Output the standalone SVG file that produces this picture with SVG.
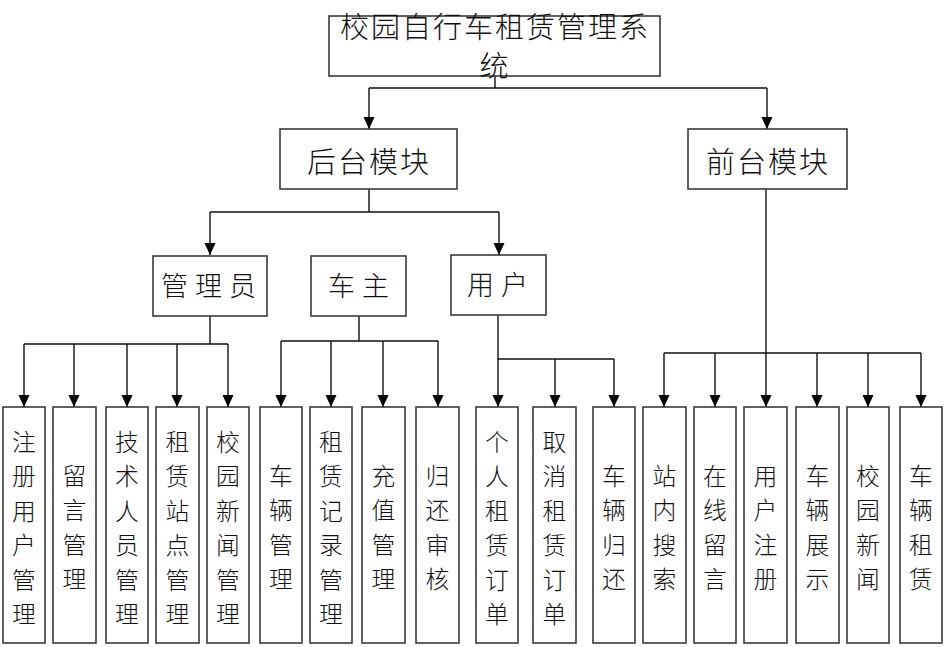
<svg xmlns="http://www.w3.org/2000/svg" width="946" height="647" viewBox="0 0 946 647">
<defs>
<style>
.box{fill:#fff;stroke:#3a3a3a;stroke-width:1.6}
.ln{fill:none;stroke:#111;stroke-width:1.4}
.t{font-family:"Noto Sans CJK SC","Noto Sans",sans-serif;font-size:27px;fill:#111;text-anchor:middle;dominant-baseline:central;font-weight:300}
.v{font-size:23.8px}
.h{font-size:29px;letter-spacing:2px}
.m{letter-spacing:7px}
</style>
<marker id="ar" markerUnits="userSpaceOnUse" markerWidth="12" markerHeight="13" refX="13" refY="6" orient="auto" viewBox="0 0 13 12">
<path d="M0,0 L13,6 L0,12 Z" fill="#000"/>
</marker>
</defs>
<rect width="946" height="647" fill="#fff"/>
<g id="connectors">
<path class="ln" d="M495,76 V88 M369,88 H767"/>
<path class="ln" d="M369,88 V129" marker-end="url(#ar)"/>
<path class="ln" d="M767,88 V129" marker-end="url(#ar)"/>
<path class="ln" d="M369,189 V212 M210,212 H499"/>
<path class="ln" d="M210,212 V255" marker-end="url(#ar)"/>
<path class="ln" d="M499,212 V255" marker-end="url(#ar)"/>
<path class="ln" d="M210,316 V344 M24,344 H228"/>
<path class="ln" d="M24,344 V407" marker-end="url(#ar)"/>
<path class="ln" d="M74,344 V407" marker-end="url(#ar)"/>
<path class="ln" d="M127,344 V407" marker-end="url(#ar)"/>
<path class="ln" d="M177,344 V407" marker-end="url(#ar)"/>
<path class="ln" d="M228,344 V407" marker-end="url(#ar)"/>
<path class="ln" d="M359,316 V341 M281,341 H438"/>
<path class="ln" d="M281,341 V407" marker-end="url(#ar)"/>
<path class="ln" d="M331,341 V407" marker-end="url(#ar)"/>
<path class="ln" d="M383,341 V407" marker-end="url(#ar)"/>
<path class="ln" d="M438,341 V407" marker-end="url(#ar)"/>
<path class="ln" d="M498,315 V359 H614"/>
<path class="ln" d="M498,359 V407" marker-end="url(#ar)"/>
<path class="ln" d="M555,359 V407" marker-end="url(#ar)"/>
<path class="ln" d="M614,359 V407" marker-end="url(#ar)"/>
<path class="ln" d="M766,189 V353 M664,353 H921"/>
<path class="ln" d="M664,353 V407" marker-end="url(#ar)"/>
<path class="ln" d="M715,353 V407" marker-end="url(#ar)"/>
<path class="ln" d="M766,353 V407" marker-end="url(#ar)"/>
<path class="ln" d="M817,353 V407" marker-end="url(#ar)"/>
<path class="ln" d="M868,353 V407" marker-end="url(#ar)"/>
<path class="ln" d="M921,353 V407" marker-end="url(#ar)"/>
</g>
<g id="root"><rect class="box" x="329" y="16" width="331" height="60"/>
<text class="t h" x="495" y="25">校园自行车租赁管理系</text><text class="t h" x="495" y="64">统</text></g>
<g id="backend"><rect class="box" x="280" y="129" width="177" height="60"/><text class="t h" x="369" y="160">后台模块</text></g>
<g id="frontend"><rect class="box" x="688" y="129" width="159" height="60"/><text class="t h" x="768" y="160">前台模块</text></g>
<g id="admin"><rect class="box" x="153" y="256" width="114" height="60"/><text class="t m" x="212" y="284">管理员</text></g>
<g id="owner"><rect class="box" x="311" y="256" width="95" height="60"/><text class="t m" x="362" y="284">车主</text></g>
<g id="user"><rect class="box" x="451" y="255" width="95" height="60"/><text class="t m" x="501" y="283">用户</text></g>
<g id="n1"><rect class="box" x="3" y="407" width="42" height="236"/><text class="t v" x="24" y="440">注</text><text class="t v" x="24" y="474.5">册</text><text class="t v" x="24" y="509">用</text><text class="t v" x="24" y="543.5">户</text><text class="t v" x="24" y="578">管</text><text class="t v" x="24" y="612.5">理</text></g>
<g id="n2"><rect class="box" x="53" y="407" width="43" height="236"/><text class="t v" x="74.5" y="474">留</text><text class="t v" x="74.5" y="508.5">言</text><text class="t v" x="74.5" y="543">管</text><text class="t v" x="74.5" y="577.5">理</text></g>
<g id="n3"><rect class="box" x="106" y="407" width="42" height="236"/><text class="t v" x="127" y="440">技</text><text class="t v" x="127" y="474.5">术</text><text class="t v" x="127" y="509">人</text><text class="t v" x="127" y="543.5">员</text><text class="t v" x="127" y="578">管</text><text class="t v" x="127" y="612.5">理</text></g>
<g id="n4"><rect class="box" x="156" y="407" width="43" height="236"/><text class="t v" x="177.5" y="440">租</text><text class="t v" x="177.5" y="474.5">赁</text><text class="t v" x="177.5" y="509">站</text><text class="t v" x="177.5" y="543.5">点</text><text class="t v" x="177.5" y="578">管</text><text class="t v" x="177.5" y="612.5">理</text></g>
<g id="n5"><rect class="box" x="207" y="407" width="42" height="236"/><text class="t v" x="228" y="440">校</text><text class="t v" x="228" y="474.5">园</text><text class="t v" x="228" y="509">新</text><text class="t v" x="228" y="543.5">闻</text><text class="t v" x="228" y="578">管</text><text class="t v" x="228" y="612.5">理</text></g>
<g id="n6"><rect class="box" x="260" y="407" width="42" height="236"/><text class="t v" x="281" y="474">车</text><text class="t v" x="281" y="508.5">辆</text><text class="t v" x="281" y="543">管</text><text class="t v" x="281" y="577.5">理</text></g>
<g id="n7"><rect class="box" x="310" y="407" width="42" height="236"/><text class="t v" x="331" y="440">租</text><text class="t v" x="331" y="474.5">赁</text><text class="t v" x="331" y="509">记</text><text class="t v" x="331" y="543.5">录</text><text class="t v" x="331" y="578">管</text><text class="t v" x="331" y="612.5">理</text></g>
<g id="n8"><rect class="box" x="362" y="407" width="43" height="236"/><text class="t v" x="383.5" y="474">充</text><text class="t v" x="383.5" y="508.5">值</text><text class="t v" x="383.5" y="543">管</text><text class="t v" x="383.5" y="577.5">理</text></g>
<g id="n9"><rect class="box" x="416" y="407" width="43" height="236"/><text class="t v" x="437.5" y="474">归</text><text class="t v" x="437.5" y="508.5">还</text><text class="t v" x="437.5" y="543">审</text><text class="t v" x="437.5" y="577.5">核</text></g>
<g id="n10"><rect class="box" x="476" y="407" width="42" height="236"/><text class="t v" x="497" y="440">个</text><text class="t v" x="497" y="474.5">人</text><text class="t v" x="497" y="509">租</text><text class="t v" x="497" y="543.5">赁</text><text class="t v" x="497" y="578">订</text><text class="t v" x="497" y="612.5">单</text></g>
<g id="n11"><rect class="box" x="533" y="407" width="43" height="236"/><text class="t v" x="554.5" y="440">取</text><text class="t v" x="554.5" y="474.5">消</text><text class="t v" x="554.5" y="509">租</text><text class="t v" x="554.5" y="543.5">赁</text><text class="t v" x="554.5" y="578">订</text><text class="t v" x="554.5" y="612.5">单</text></g>
<g id="n12"><rect class="box" x="593" y="407" width="42" height="236"/><text class="t v" x="614" y="474">车</text><text class="t v" x="614" y="508.5">辆</text><text class="t v" x="614" y="543">归</text><text class="t v" x="614" y="577.5">还</text></g>
<g id="n13"><rect class="box" x="643" y="407" width="43" height="236"/><text class="t v" x="664.5" y="474">站</text><text class="t v" x="664.5" y="508.5">内</text><text class="t v" x="664.5" y="543">搜</text><text class="t v" x="664.5" y="577.5">索</text></g>
<g id="n14"><rect class="box" x="694" y="407" width="42" height="236"/><text class="t v" x="715" y="474">在</text><text class="t v" x="715" y="508.5">线</text><text class="t v" x="715" y="543">留</text><text class="t v" x="715" y="577.5">言</text></g>
<g id="n15"><rect class="box" x="744" y="407" width="43" height="236"/><text class="t v" x="765.5" y="474">用</text><text class="t v" x="765.5" y="508.5">户</text><text class="t v" x="765.5" y="543">注</text><text class="t v" x="765.5" y="577.5">册</text></g>
<g id="n16"><rect class="box" x="796" y="407" width="43" height="236"/><text class="t v" x="817.5" y="474">车</text><text class="t v" x="817.5" y="508.5">辆</text><text class="t v" x="817.5" y="543">展</text><text class="t v" x="817.5" y="577.5">示</text></g>
<g id="n17"><rect class="box" x="847" y="407" width="42" height="236"/><text class="t v" x="868" y="474">校</text><text class="t v" x="868" y="508.5">园</text><text class="t v" x="868" y="543">新</text><text class="t v" x="868" y="577.5">闻</text></g>
<g id="n18"><rect class="box" x="900" y="407" width="42" height="236"/><text class="t v" x="921" y="474">车</text><text class="t v" x="921" y="508.5">辆</text><text class="t v" x="921" y="543">租</text><text class="t v" x="921" y="577.5">赁</text></g>
</svg>
